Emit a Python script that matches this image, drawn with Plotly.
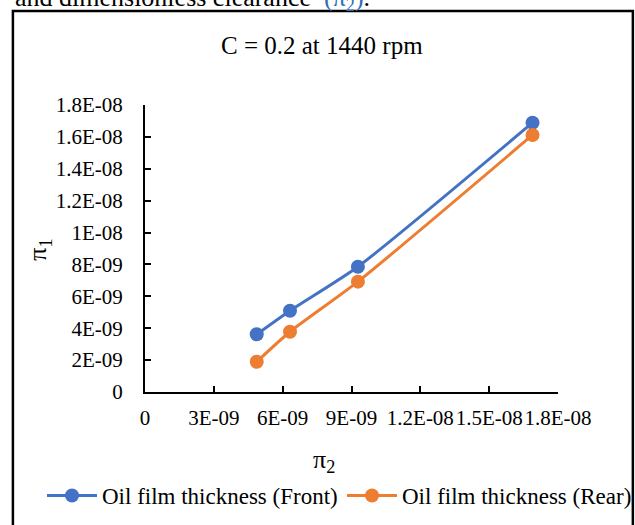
import plotly.graph_objects as go

# ---- data ----
pi2_values = [4.87e-9, 6.32e-9, 9.28e-9, 1.689e-8]
front_pi1 = [3.62e-9, 5.10e-9, 7.86e-9, 1.689e-8]
rear_pi1 = [1.90e-9, 3.78e-9, 6.92e-9, 1.612e-8]
series_names = ["Oil film thickness (Front)", "Oil film thickness (Rear)"]

x_tickvals = [0, 3e-9, 6e-9, 9e-9, 1.2e-8, 1.5e-8, 1.8e-8]
x_ticktext = ["0", "3E-09", "6E-09", "9E-09", "1.2E-08", "1.5E-08", "1.8E-08"]
y_tickvals = [0, 2e-9, 4e-9, 6e-9, 8e-9, 1e-8, 1.2e-8, 1.4e-8, 1.6e-8, 1.8e-8]
y_ticktext = ["0", "2E-09", "4E-09", "6E-09", "8E-09", "1E-08",
              "1.2E-08", "1.4E-08", "1.6E-08", "1.8E-08"]

title_text = "C = 0.2 at 1440 rpm"
caption_text = ("and dimensionless clearance  <span style='color:#2F6EBA'>(π<sub>2</sub>)</span>.")

# ---- layout geometry (pixels) ----
W, H = 635, 525
L, R, T, B = 145, 557.7, 105, 392.5
FONT = "Times New Roman, Liberation Serif, serif"
BLUE = "#4472C4"
ORANGE = "#ED7D31"


def px(p):
    return (p - L) / (R - L)


def py(p):
    return (B - p) / (B - T)


fig = go.Figure()
for name, yv, col, lg in [(series_names[0], front_pi1, BLUE, "legend"),
                          (series_names[1], rear_pi1, ORANGE, "legend2")]:
    fig.add_trace(go.Scatter(
        x=pi2_values, y=yv, name=name, mode="lines+markers", legend=lg,
        line=dict(color=col, width=3, shape="spline", smoothing=0.6),
        marker=dict(color=col, size=14, line=dict(width=0)),
    ))

axis_common = dict(
    showline=True, linecolor="black", linewidth=2,
    ticks="inside", ticklen=6, tickwidth=2, tickcolor="black",
    showgrid=False, zeroline=False, automargin=False,
    tickfont=dict(family=FONT, size=21, color="black"),
)

legend_common = dict(orientation="h", xref="container", yref="container",
                     y=1 - 474 / H, xanchor="left", yanchor="top",
                     font=dict(family=FONT, size=23, color="black"),
                     bgcolor="rgba(0,0,0,0)", itemwidth=50)

fig.update_layout(
    width=W, height=H,
    margin=dict(l=L, r=W - R, t=T, b=H - B, pad=0, autoexpand=False),
    paper_bgcolor="white", plot_bgcolor="white",
    font=dict(family=FONT, color="black"),
    xaxis=dict(range=[0, 1.8e-8], tickvals=x_tickvals, ticktext=x_ticktext,
               tickangle=0, ticklabelstandoff=6, **axis_common),
    yaxis=dict(range=[0, 1.8e-8], tickvals=y_tickvals, ticktext=y_ticktext,
               ticklabelstandoff=16, **axis_common),
    showlegend=True,
    legend=dict(x=42 / W, **legend_common),
    legend2=dict(x=342 / W, **legend_common),
)

# chart border
fig.add_shape(type="rect", xref="paper", yref="paper",
              x0=px(13), x1=px(632.5), y0=py(540), y1=py(10.8),
              line=dict(color="black", width=2.5), fillcolor="rgba(0,0,0,0)", layer="below")

# title
fig.add_annotation(text=title_text, xref="paper", yref="paper", x=px(322), y=py(45),
                   xanchor="center", yanchor="middle", showarrow=False,
                   font=dict(family=FONT, size=25, color="black"))
# axis titles
fig.add_annotation(text="π<sub>1</sub>", xref="paper", yref="paper", x=px(39), y=py(250),
                   xanchor="center", yanchor="middle", showarrow=False, textangle=-90,
                   font=dict(family=FONT, size=26, color="black"))
fig.add_annotation(text="π<sub>2</sub>", xref="paper", yref="paper", x=px(324), y=py(462),
                   xanchor="center", yanchor="middle", showarrow=False,
                   font=dict(family=FONT, size=26, color="black"))
# cut-off caption above the chart
fig.add_annotation(text=caption_text, xref="paper", yref="paper", x=px(13), y=py(-1),
                   xanchor="left", yanchor="middle", showarrow=False,
                   font=dict(family=FONT, size=26, color="black"))

fig.write_html("out.html", config={"displayModeBar": False},
               post_script="document.body.style.margin='0';")
